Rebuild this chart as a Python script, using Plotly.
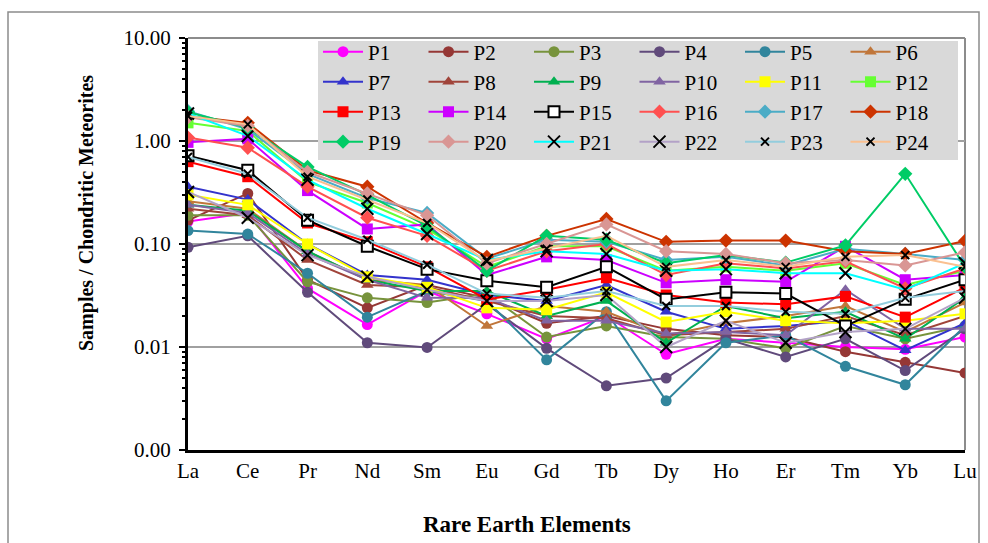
import plotly.graph_objects as go

elements = ["La", "Ce", "Pr", "Nd", "Sm", "Eu", "Gd", "Tb", "Dy", "Ho", "Er", "Tm", "Yb", "Lu"]

P1 = [0.165, 0.20, 0.037, 0.0165, 0.035, 0.021, 0.012, 0.020, 0.0085, 0.012, 0.011, 0.010, 0.0095, 0.0125]
P2 = [0.17, 0.31, 0.045, 0.024, 0.040, 0.030, 0.017, 0.020, 0.015, 0.013, 0.0125, 0.009, 0.0071, 0.0056]
P3 = [0.19, 0.19, 0.043, 0.030, 0.027, 0.033, 0.0125, 0.016, 0.0125, 0.012, 0.0097, 0.016, 0.012, 0.016]
P4 = [0.093, 0.12, 0.034, 0.011, 0.0099, 0.026, 0.0097, 0.0042, 0.005, 0.012, 0.008, 0.012, 0.0059, 0.015]
P5 = [0.135, 0.125, 0.052, 0.0195, 0.035, 0.028, 0.0075, 0.022, 0.003, 0.011, 0.013, 0.0065, 0.0043, 0.016]
P6 = [0.26, 0.22, 0.085, 0.045, 0.040, 0.016, 0.025, 0.022, 0.013, 0.017, 0.020, 0.025, 0.014, 0.027]
P7 = [0.36, 0.27, 0.10, 0.050, 0.045, 0.032, 0.028, 0.040, 0.022, 0.015, 0.016, 0.018, 0.0093, 0.017]
P8 = [0.22, 0.19, 0.070, 0.040, 0.038, 0.028, 0.020, 0.019, 0.013, 0.014, 0.015, 0.020, 0.013, 0.020]
P9 = [0.24, 0.21, 0.085, 0.045, 0.035, 0.035, 0.020, 0.028, 0.011, 0.025, 0.019, 0.022, 0.012, 0.030]
P10 = [0.24, 0.20, 0.080, 0.045, 0.030, 0.030, 0.018, 0.018, 0.0135, 0.014, 0.013, 0.036, 0.015, 0.015]
P11 = [0.30, 0.24, 0.10, 0.048, 0.038, 0.024, 0.023, 0.034, 0.0175, 0.022, 0.018, 0.017, 0.018, 0.021]
P12 = [1.50, 1.25, 0.40, 0.25, 0.14, 0.060, 0.095, 0.095, 0.055, 0.060, 0.055, 0.065, 0.040, 0.055]
P13 = [0.63, 0.45, 0.16, 0.105, 0.060, 0.029, 0.036, 0.047, 0.032, 0.027, 0.026, 0.031, 0.0195, 0.038]
P14 = [0.97, 1.05, 0.33, 0.14, 0.155, 0.050, 0.075, 0.070, 0.042, 0.045, 0.043, 0.095, 0.045, 0.050]
P15 = [0.72, 0.52, 0.17, 0.095, 0.057, 0.044, 0.038, 0.060, 0.029, 0.034, 0.033, 0.016, 0.029, 0.045]
P16 = [1.08, 0.86, 0.36, 0.18, 0.12, 0.055, 0.085, 0.100, 0.050, 0.065, 0.058, 0.068, 0.037, 0.058]
P17 = [1.95, 1.30, 0.48, 0.28, 0.20, 0.072, 0.110, 0.105, 0.070, 0.075, 0.062, 0.090, 0.080, 0.070]
P18 = [1.75, 1.50, 0.52, 0.36, 0.16, 0.075, 0.120, 0.175, 0.105, 0.108, 0.108, 0.085, 0.080, 0.107]
P19 = [1.90, 1.35, 0.56, 0.30, 0.15, 0.055, 0.120, 0.110, 0.065, 0.078, 0.066, 0.097, 0.48, 0.060]
P20 = [1.70, 1.40, 0.50, 0.31, 0.19, 0.065, 0.100, 0.155, 0.085, 0.080, 0.065, 0.070, 0.062, 0.083]
P21 = [1.85, 1.12, 0.42, 0.22, 0.125, 0.070, 0.085, 0.080, 0.055, 0.057, 0.052, 0.052, 0.036, 0.065]
P22 = [0.32, 0.18, 0.078, 0.048, 0.036, 0.028, 0.028, 0.032, 0.010, 0.018, 0.011, 0.014, 0.015, 0.030]
P23 = [0.70, 0.48, 0.18, 0.11, 0.063, 0.033, 0.030, 0.035, 0.025, 0.025, 0.022, 0.021, 0.030, 0.035]
P24 = [1.75, 1.45, 0.45, 0.27, 0.16, 0.068, 0.090, 0.120, 0.060, 0.070, 0.060, 0.075, 0.078, 0.060]

series_names = ["P%d" % i for i in range(1, 25)]
series_values = [P1, P2, P3, P4, P5, P6, P7, P8, P9, P10, P11, P12,
                 P13, P14, P15, P16, P17, P18, P19, P20, P21, P22, P23, P24]

line_colors = ["#FF00FF", "#953735", "#77933C", "#604A7B", "#31859C", "#C0763A",
               "#3333CC", "#A0443A", "#00B050", "#8064A2", "#FFFF00", "#66FF33",
               "#FF0000", "#CC00FF", "#000000", "#FF5050", "#4BACC6", "#CC3300",
               "#00CC66", "#D99694", "#00FFFF", "#B3A2C7", "#93CDDD", "#FAC090"]
symbols = ["circle"] * 5 + ["triangle-up"] * 5 + ["square"] * 5 + ["diamond"] * 5 + ["x-thin"] * 4
sizes = [11] * 5 + [11] * 5 + [11] * 5 + [11] * 5 + [12, 12, 8, 8]

FONT = "'Liberation Serif', 'Times New Roman', serif"
L, R, T, B = 188, 23, 38, 93
W, H = 988, 543
pw, ph = W - L - R, H - T - B

def px_x(x):
    return (x - L) / pw

def px_y(y):
    return (H - B - y) / ph

fig = go.Figure()
row_legends = ["legend", "legend2", "legend3", "legend4"]
for i, (name, vals) in enumerate(zip(series_names, series_values)):
    sym = symbols[i]
    col = line_colors[i]
    if sym == "x-thin":
        marker = dict(symbol=sym, size=sizes[i], color="black", line=dict(color="black", width=2))
    elif name == "P15":
        marker = dict(symbol="square", size=11, color="white", line=dict(color="black", width=2))
    else:
        marker = dict(symbol=sym, size=sizes[i], color=col, line=dict(width=0))
    fig.add_trace(go.Scatter(
        x=elements, y=vals, name=name, mode="lines+markers",
        line=dict(color=col, width=2), marker=marker,
        legend=row_legends[i // 6],
    ))

legend_common = dict(
    orientation="h", xanchor="left", yanchor="middle", x=px_x(318),
    bgcolor="rgba(0,0,0,0)", font=dict(family=FONT, size=21, color="black"),
    itemwidth=40, entrywidth=50.5, entrywidthmode="pixels", tracegroupgap=0,
)
row_centers = [52, 82, 112, 142]

fig.update_layout(
    width=W, height=H,
    margin=dict(l=L, r=R, t=T, b=B, pad=0),
    paper_bgcolor="white", plot_bgcolor="white",
    font=dict(family=FONT, size=21, color="black"),
    showlegend=True,
    xaxis=dict(
        type="category", range=[0, 13], showgrid=False, ticks="",
        showline=True, linecolor="black", linewidth=3,
        tickfont=dict(family=FONT, size=21, color="black"),
        zeroline=False,
    ),
    yaxis=dict(
        type="log", range=[-3, 1], dtick=1, tick0=0, tickformat=".2f",
        showgrid=True, gridcolor="#A0A0A0", gridwidth=2,
        ticks="outside", ticklen=6, tickwidth=2, tickcolor="black",
        showline=True, linecolor="black", linewidth=3,
        tickfont=dict(family=FONT, size=21, color="black"),
        ticklabelstandoff=4,
        minor=dict(ticks="outside", ticklen=3, tickwidth=2, tickcolor="black", showgrid=False),
        zeroline=False,
    ),
    shapes=[
        dict(type="rect", xref="paper", yref="paper", layer="above",
             x0=px_x(318), x1=px_x(958), y0=px_y(160), y1=px_y(41),
             fillcolor="#D9D9D9", line=dict(width=0)),
        dict(type="line", xref="paper", yref="paper", x0=0, x1=1, y0=1, y1=1,
             line=dict(color="#8C8C8C", width=2), layer="below"),
        dict(type="line", xref="paper", yref="paper", x0=1, x1=1, y0=0, y1=1,
             line=dict(color="#8C8C8C", width=2), layer="below"),
        dict(type="rect", xref="paper", yref="paper",
             x0=px_x(8), x1=px_x(979), y0=px_y(546), y1=px_y(12),
             line=dict(color="#8C8C8C", width=1.5), fillcolor="rgba(0,0,0,0)", layer="below"),
    ],
    annotations=[
        dict(text="<b>Samples / Chondritic Meteorites</b>", xref="paper", yref="paper",
             x=px_x(86), y=px_y(213), textangle=-90, showarrow=False,
             font=dict(family=FONT, size=20, color="black"),
             xanchor="center", yanchor="middle"),
        dict(text="<b>Rare Earth Elements</b>", xref="paper", yref="paper",
             x=px_x(527), y=px_y(524), showarrow=False,
             font=dict(family=FONT, size=23, color="black"),
             xanchor="center", yanchor="middle"),
    ],
)
layout_legends = {}
for k, lg in enumerate(row_legends):
    d = dict(legend_common)
    d["y"] = px_y(row_centers[k])
    layout_legends[lg] = d
fig.update_layout(**layout_legends)

fig.write_html("out.html", config={"displayModeBar": False},
               post_script="document.body.style.margin='0';document.body.style.padding='0';")
